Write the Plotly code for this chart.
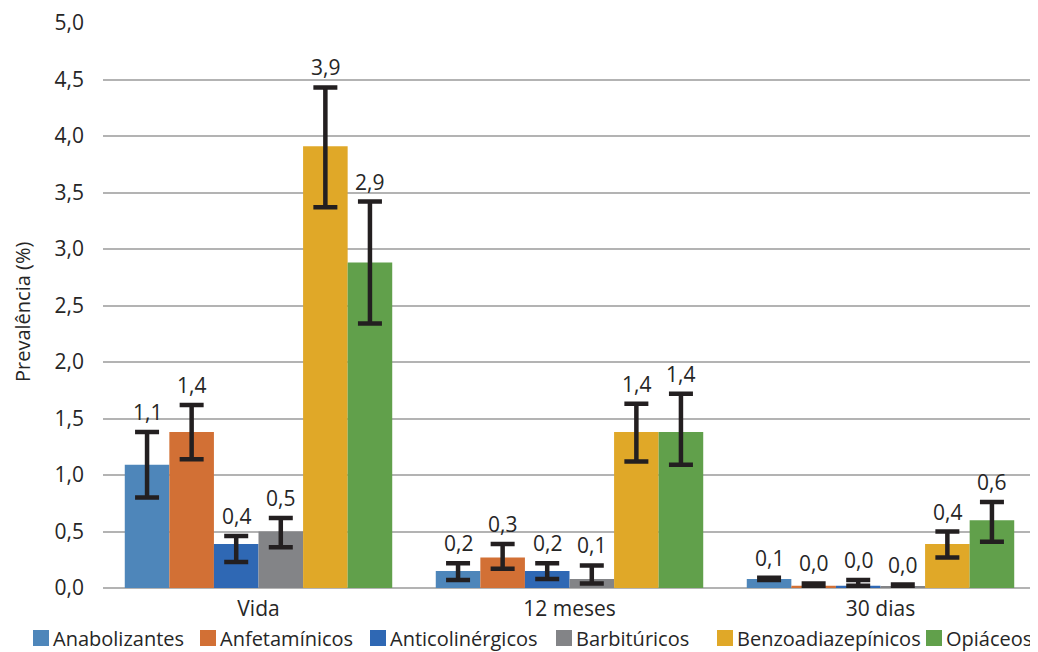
import plotly.graph_objects as go

categories = ["Vida", "12 meses", "30 dias"]
series_names = ["Anabolizantes", "Anfetamínicos", "Anticolinérgicos", "Barbitúricos", "Benzoadiazepínicos", "Opiáceos"]
colors = ["#4E86BA", "#D27035", "#2F68B4", "#838487", "#E0A828", "#61A04B"]

anabolizantes = [1.09, 0.15, 0.08]
anfetaminicos = [1.38, 0.27, 0.02]
anticolinergicos = [0.39, 0.15, 0.02]
barbituricos = [0.50, 0.08, 0.015]
benzoadiazepinicos = [3.91, 1.38, 0.39]
opiaceos = [2.88, 1.38, 0.60]

anabolizantes_hi = [1.38, 0.22, 0.09]
anfetaminicos_hi = [1.62, 0.39, 0.04]
anticolinergicos_hi = [0.46, 0.22, 0.07]
barbituricos_hi = [0.62, 0.20, 0.03]
benzoadiazepinicos_hi = [4.43, 1.63, 0.50]
opiaceos_hi = [3.42, 1.72, 0.76]

anabolizantes_lo = [0.80, 0.07, 0.07]
anfetaminicos_lo = [1.14, 0.17, 0.01]
anticolinergicos_lo = [0.23, 0.08, 0.02]
barbituricos_lo = [0.36, 0.04, 0.01]
benzoadiazepinicos_lo = [3.37, 1.12, 0.27]
opiaceos_lo = [2.34, 1.09, 0.41]

labels_anabolizantes = ["1,1", "0,2", "0,1"]
labels_anfetaminicos = ["1,4", "0,3", "0,0"]
labels_anticolinergicos = ["0,4", "0,2", "0,0"]
labels_barbituricos = ["0,5", "0,1", "0,0"]
labels_benzoadiazepinicos = ["3,9", "1,4", "0,4"]
labels_opiaceos = ["2,9", "1,4", "0,6"]

y_ticks = [0, 0.5, 1.0, 1.5, 2.0, 2.5, 3.0, 3.5, 4.0, 4.5, 5.0]
y_tick_labels = ["0,0", "0,5", "1,0", "1,5", "2,0", "2,5", "3,0", "3,5", "4,0", "4,5", "5,0"]
y_title = "Prevalência (%)"

values = [anabolizantes, anfetaminicos, anticolinergicos, barbituricos, benzoadiazepinicos, opiaceos]
highs = [anabolizantes_hi, anfetaminicos_hi, anticolinergicos_hi, barbituricos_hi, benzoadiazepinicos_hi, opiaceos_hi]
lows = [anabolizantes_lo, anfetaminicos_lo, anticolinergicos_lo, barbituricos_lo, benzoadiazepinicos_lo, opiaceos_lo]
labels = [labels_anabolizantes, labels_anfetaminicos, labels_anticolinergicos, labels_barbituricos, labels_benzoadiazepinicos, labels_opiaceos]

FONT = "Open Sans"
TXT = "#262626"
OFF = 8                      # page body margin
W, H = 1038 - OFF, 652 - OFF
ML, MR, MT, MB = 103 - OFF, 2, 23 - OFF, 64
BARGAP = 0.14
PW = W - ML - MR
PH = H - MT - MB

fig = go.Figure()
for i, name in enumerate(series_names):
    v = values[i]
    fig.add_trace(go.Bar(
        name=name, x=categories, y=v, showlegend=False,
        marker=dict(color=colors[i], line=dict(width=0)),
        error_y=dict(type="data", symmetric=False,
                     array=[h - y for h, y in zip(highs[i], v)],
                     arrayminus=[y - l for y, l in zip(v, lows[i])],
                     color="#231F20", thickness=4.5, width=12),
    ))

# data labels above the error bars, centred on each bar
n = len(series_names)
bw = (1 - BARGAP) / n
for i in range(n):
    for j in range(len(categories)):
        fig.add_annotation(
            x=j - (1 - BARGAP) / 2 + (i + 0.5) * bw, y=highs[i][j],
            text=labels[i][j], showarrow=False,
            xref="x", yref="y", yanchor="bottom", yshift=4,
            font=dict(family=FONT, size=21, color=TXT),
        )

# y axis title
fig.add_annotation(
    text=y_title, textangle=-90, showarrow=False,
    xref="paper", yref="paper", x=(22 - OFF - ML) / PW, y=(H - MB - (312 - OFF)) / PH,
    xanchor="center", yanchor="middle",
    font=dict(family=FONT, size=20, color=TXT),
)

# manual legend (square + text) in one row
legend_px = [33, 200, 370, 556, 717, 926]
ly = 638 - OFF
for i, name in enumerate(series_names):
    px = legend_px[i] - OFF
    fig.add_shape(type="rect", xref="paper", yref="paper",
                  x0=(px - ML) / PW, x1=(px + 16 - ML) / PW,
                  y0=(H - MB - (ly + 8)) / PH, y1=(H - MB - (ly - 8)) / PH,
                  fillcolor=colors[i], line=dict(width=0))
    fig.add_annotation(
        text=name, showarrow=False, xref="paper", yref="paper",
        x=(px + 19 - ML) / PW, y=(H - MB - ly) / PH,
        xanchor="left", yanchor="middle", borderpad=0,
        font=dict(family=FONT, size=20, color=TXT),
    )

fig.update_layout(
    width=W, height=H,
    margin=dict(l=ML, r=MR, t=MT, b=MB, autoexpand=False),
    paper_bgcolor="white", plot_bgcolor="white",
    barmode="group", bargap=BARGAP, bargroupgap=0,
    font=dict(family=FONT, size=21, color=TXT),
    showlegend=False,
    xaxis=dict(showgrid=False, showline=False, ticks="", automargin=False,
               ticklabelstandoff=6,
               tickfont=dict(size=21, color=TXT)),
    yaxis=dict(range=[0, 5.0], tickvals=y_ticks, ticktext=y_tick_labels,
               showgrid=True, gridcolor="#B3B3B3", gridwidth=1.5,
               zeroline=True, zerolinecolor="#B3B3B3", zerolinewidth=1.5,
               showline=False, ticks="", automargin=False,
               ticklabelstandoff=18,
               tickfont=dict(size=21, color=TXT)),
)

fig.write_html("out.html")
